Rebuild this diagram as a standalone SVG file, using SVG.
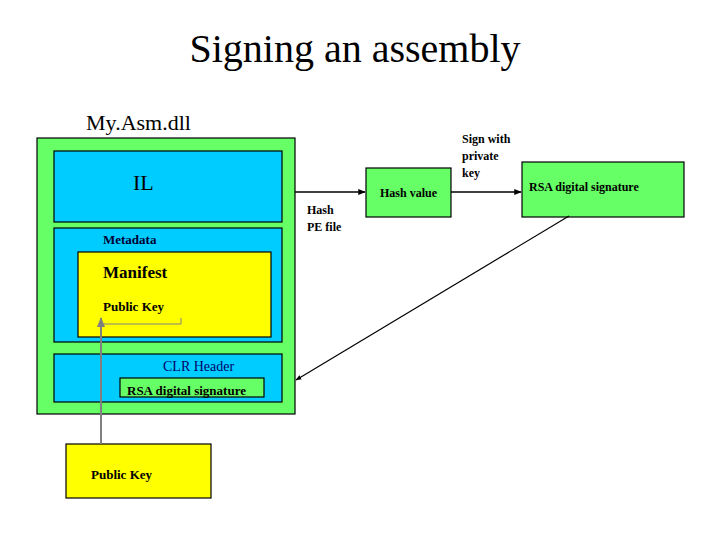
<svg xmlns="http://www.w3.org/2000/svg" width="720" height="540" viewBox="0 0 720 540" font-family="Liberation Serif, DejaVu Serif, serif">
<style>
.b{font-weight:bold;font-size:13px}
.box{stroke:#000;stroke-width:1.2}
.g{fill:#66ff66}
.c{fill:#00ccff}
.y{fill:#ffff00}
.ln{stroke:#000;stroke-width:1.5;fill:none}
</style>
<defs>
<marker id="ah" viewBox="0 0 10 10" refX="9" refY="5" markerWidth="5" markerHeight="5" orient="auto">
<path d="M0,1 L10,5 L0,9 z" fill="#000"/>
</marker>
<marker id="ahg" viewBox="0 0 10 10" refX="9" refY="5" markerWidth="5" markerHeight="5" orient="auto">
<path d="M0,1 L10,5 L0,9 z" fill="#808080"/>
</marker>
</defs>
<rect width="720" height="540" fill="#fff"/>
<text x="355" y="62" text-anchor="middle" font-size="40">Signing an assembly</text>
<text x="86" y="130" font-size="22">My.Asm.dll</text>

<g id="assembly">
<rect class="box g" x="37" y="138" width="258" height="276"/>
</g>
<g id="il">
<rect class="box c" x="54" y="151" width="228" height="71"/>
<text x="133" y="190" font-size="22">IL</text>
</g>
<g id="metadata">
<rect class="box c" x="54" y="228" width="228" height="114"/>
<text class="b" x="103" y="244" fill="#000033">Metadata</text>
</g>
<g id="manifest">
<rect class="box y" x="78" y="252" width="193" height="85"/>
<text x="103" y="278" font-size="17" font-weight="bold">Manifest</text>
<text class="b" x="103" y="311">Public Key</text>
<path d="M103,324 H181 V318" stroke="#808080" stroke-width="1" fill="none"/>
</g>
<g id="clr">
<rect class="box c" x="54" y="354" width="228" height="48"/>
<text x="163" y="371" font-size="14" fill="#000066">CLR Header</text>
<rect class="box g" x="120" y="378" width="144" height="19"/>
<text class="b" x="127" y="395">RSA digital signature</text>
</g>
<g id="hash">
<rect class="box g" x="366" y="168" width="85" height="49"/>
<text x="380" y="197" font-size="12" font-weight="bold">Hash value</text>
</g>
<g id="rsa">
<rect class="box g" x="522" y="162" width="162" height="55"/>
<text x="529" y="191" font-size="12" font-weight="bold">RSA digital signature</text>
</g>
<g id="pubkey">
<rect class="box y" x="66" y="444" width="145" height="54"/>
<text class="b" x="91" y="479">Public Key</text>
</g>

<g id="connectors">
<line class="ln" x1="295" y1="192" x2="365" y2="192" marker-end="url(#ah)"/>
<line class="ln" x1="451" y1="192" x2="521" y2="192" marker-end="url(#ah)"/>
<line stroke="#000" stroke-width="1.2" x1="569" y1="216" x2="296" y2="380" marker-end="url(#ah)"/>
<line stroke="#808080" stroke-width="2" x1="101" y1="444" x2="101" y2="318" marker-end="url(#ahg)"/>
<text x="307" y="214" font-size="12" font-weight="bold">Hash</text>
<text x="307" y="231" font-size="12" font-weight="bold">PE file</text>
<text x="462" y="143" font-size="12" font-weight="bold">Sign with</text>
<text x="462" y="160" font-size="12" font-weight="bold">private</text>
<text x="462" y="177" font-size="12" font-weight="bold">key</text>
</g>
</svg>
